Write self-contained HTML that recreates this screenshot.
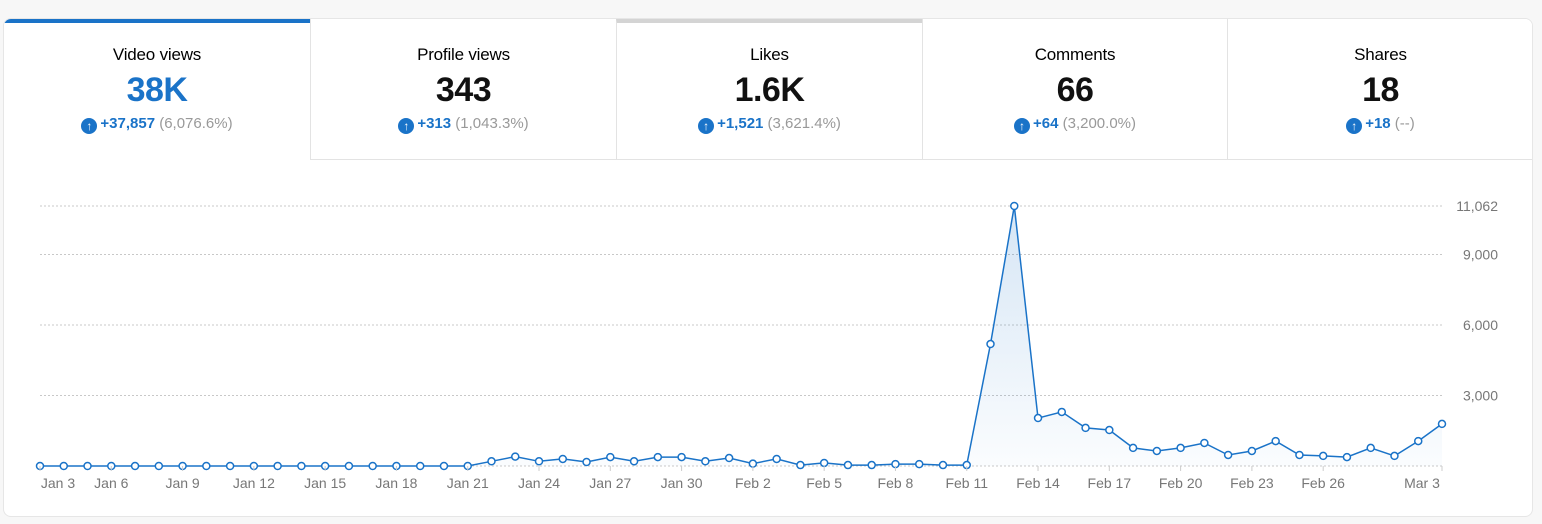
<!DOCTYPE html>
<html><head><meta charset="utf-8">
<style>
body{margin:0;width:1542px;height:524px;background:#f7f7f7;font-family:"Liberation Sans",sans-serif;overflow:hidden;position:relative}
.card{position:absolute;left:3px;top:18px;width:1528px;height:497px;background:#fff;border:1px solid #e6e6e6;border-radius:8px;overflow:hidden}
.tab{position:absolute;top:0;height:141px;box-sizing:border-box;text-align:center;border-left:1px solid #e3e3e3;border-bottom:1px solid #e3e3e3;background:#fff}
.tab .t{margin-top:26px;font-size:17px;color:#000;height:22px;letter-spacing:-0.2px}
.tab .v{font-size:34px;font-weight:bold;color:#111;margin-top:4px;line-height:38px;letter-spacing:-0.5px}
.tab .d{font-size:15px;margin-top:6px;color:#999}
.tab .d b{font-weight:bold;color:#1a73c8}
.ic{display:inline-block;width:16px;height:16px;border-radius:50%;background:#1a73c8;color:#fff;font-size:12px;line-height:16px;vertical-align:-2px;margin-right:3px;font-weight:bold}
</style></head><body>
<div class="card">
<div class="tab" style="left:0;width:306px;border-left:none;border-bottom:none;border-top:4px solid #1a73c8"><div class="t" style="margin-top:22px">Video views</div><div class="v" style="color:#1a73c8">38K</div><div class="d"><span class="ic">↑</span><b>+37,857</b> (6,076.6%)</div></div>
<div class="tab" style="left:306px;width:306px"><div class="t">Profile views</div><div class="v">343</div><div class="d"><span class="ic">↑</span><b>+313</b> (1,043.3%)</div></div>
<div class="tab" style="left:612px;width:306px;border-top:4px solid #d4d4d4"><div class="t" style="margin-top:22px">Likes</div><div class="v">1.6K</div><div class="d"><span class="ic">↑</span><b>+1,521</b> (3,621.4%)</div></div>
<div class="tab" style="left:918px;width:305px"><div class="t">Comments</div><div class="v">66</div><div class="d"><span class="ic">↑</span><b>+64</b> (3,200.0%)</div></div>
<div class="tab" style="left:1223px;width:306px"><div class="t">Shares</div><div class="v">18</div><div class="d"><span class="ic">↑</span><b>+18</b> (--)</div></div>
</div>
<svg id="s" style="position:absolute;left:0;top:0" width="1542" height="524"></svg>
<script>
var vals=[0,0,0,0,0,0,0,0,0,0,0,0,0,0,0,0,0,0,0,200,400,200,300,170,380,200,380,380,200,340,100,300,40,130,40,40,80,80,40,40,5190,11062,2040,2300,1620,1530,770,640,770,980,470,640,1060,470,430,380,770,430,1060,1790];
var x0=40,dx=1402/59,y0=466,k=260/11062;
var h='<defs><linearGradient id="g" x1="0" y1="0" x2="0" y2="1"><stop offset="0" stop-color="#1a73c8" stop-opacity="0.18"/><stop offset="1" stop-color="#1a73c8" stop-opacity="0.02"/></linearGradient></defs>';
[[11062,'11,062'],[9000,'9,000'],[6000,'6,000'],[3000,'3,000']].forEach(function(g){var y=y0-g[0]*k;h+='<line x1="40" x2="1442" y1="'+y+'" y2="'+y+'" stroke="#c8c8c8" stroke-dasharray="2,2"/><text x="1498" y="'+(y+5)+'" text-anchor="end" font-size="14" fill="#777">'+g[1]+'</text>';});
h+='<line x1="40" x2="1442" y1="466" y2="466" stroke="#c8c8c8" stroke-dasharray="2,2"/>';
var pts=vals.map(function(v,i){return [x0+i*dx,y0-v*k]});
var d=pts.map(function(p){return p[0].toFixed(1)+','+p[1].toFixed(1)}).join(' ');
h+='<polygon points="40,466 '+d+' 1442,466" fill="url(#g)"/>';
h+='<polyline points="'+d+'" fill="none" stroke="#1a73c8" stroke-width="1.5"/>';
pts.forEach(function(p){h+='<circle cx="'+p[0]+'" cy="'+p[1]+'" r="3.5" fill="#fff" stroke="#1a73c8" stroke-width="1.5"/>';});
var labs=['Jan 3','Jan 6','Jan 9','Jan 12','Jan 15','Jan 18','Jan 21','Jan 24','Jan 27','Jan 30','Feb 2','Feb 5','Feb 8','Feb 11','Feb 14','Feb 17','Feb 20','Feb 23','Feb 26'];
labs.forEach(function(l,i){var x=x0+i*3*dx;h+='<line x1="'+x+'" x2="'+x+'" y1="466" y2="471" stroke="#ccc"/><text x="'+(i==0?58:x)+'" y="488" text-anchor="middle" font-size="14" fill="#777">'+l+'</text>';});
h+='<line x1="1442" x2="1442" y1="466" y2="471" stroke="#ccc"/><text x="1422" y="488" text-anchor="middle" font-size="14" fill="#777">Mar 3</text>';
document.getElementById('s').innerHTML=h;
</script>
</body></html>
